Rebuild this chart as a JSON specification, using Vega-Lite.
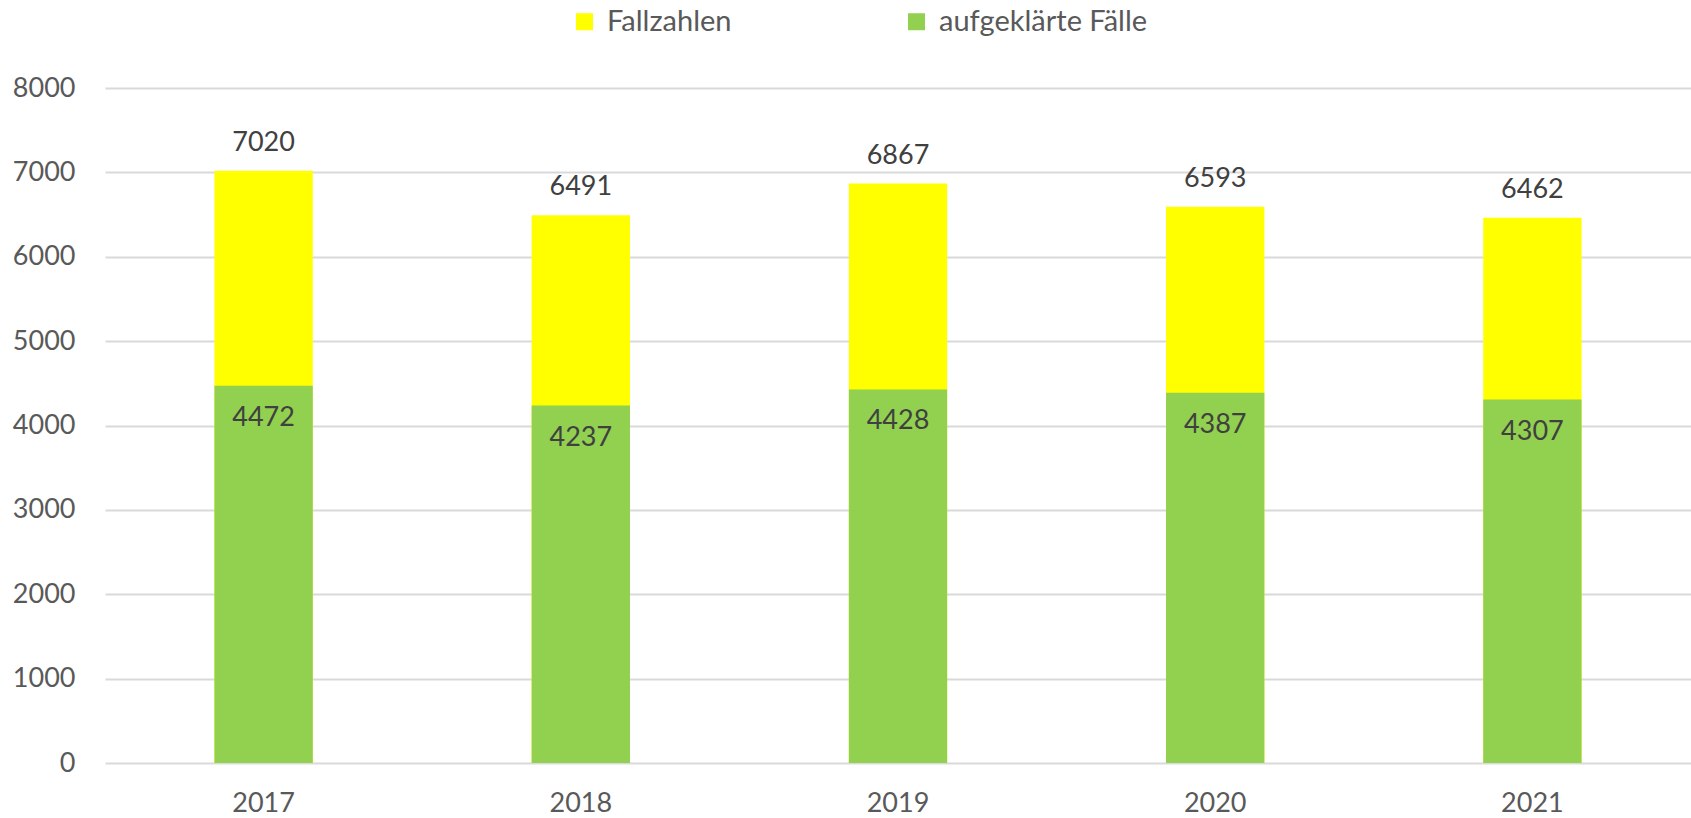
{
  "$schema": "https://vega.github.io/schema/vega-lite/v6.json",
  "width": 1586,
  "height": 675,
  "autosize": {"type": "none"},
  "padding": {"left": 105, "top": 88, "right": 0, "bottom": 55},
  "background": "white",
  "config": {
    "font": "Lato",
    "view": {"stroke": null}
  },
  "data": {
    "values": [
      {"Jahr": "2017", "Fallzahlen": 7020, "aufgeklärte Fälle": 4472},
      {"Jahr": "2018", "Fallzahlen": 6491, "aufgeklärte Fälle": 4237},
      {"Jahr": "2019", "Fallzahlen": 6867, "aufgeklärte Fälle": 4428},
      {"Jahr": "2020", "Fallzahlen": 6593, "aufgeklärte Fälle": 4387},
      {"Jahr": "2021", "Fallzahlen": 6462, "aufgeklärte Fälle": 4307}
    ]
  },
  "transform": [{"fold": ["Fallzahlen", "aufgeklärte Fälle"], "as": ["Serie", "Wert"]}],
  "encoding": {
    "x": {
      "field": "Jahr", "type": "nominal",
      "scale": {"paddingInner": 0, "paddingOuter": 0},
      "axis": {"title": null, "labelAngle": 0, "domain": false, "ticks": false, "labelFontSize": 27, "labelColor": "#595959", "labelPadding": 27}
    },
    "y": {
      "field": "Wert", "type": "quantitative", "stack": null,
      "scale": {"domain": [0, 8000]},
      "axis": {"title": null, "values": [0,1000,2000,3000,4000,5000,6000,7000,8000], "format": "d", "grid": true, "gridColor": "#d9d9d9", "gridWidth": 2, "domain": false, "ticks": false, "labelFontSize": 27, "labelColor": "#595959", "labelPadding": 30}
    }
  },
  "layer": [
    {
      "mark": {"type": "bar", "width": {"band": 0.31}},
      "encoding": {
        "color": {
          "field": "Serie", "type": "nominal",
          "scale": {"domain": ["Fallzahlen", "aufgeklärte Fälle"], "range": ["#FFFF00", "#92D050"]},
          "legend": {"title": null, "orient": "none", "legendX": 465, "legendY": -81, "direction": "horizontal", "symbolType": "square", "symbolSize": 289, "symbolStrokeWidth": 0, "labelFontSize": 29, "labelLimit": 0, "labelColor": "#595959", "labelOffset": 8, "columnPadding": 170}
        }
      }
    },
    {
      "transform": [{"filter": "datum.Serie == 'Fallzahlen'"}],
      "mark": {"type": "text", "baseline": "bottom", "dy": -14, "fontSize": 27, "color": "#404040"},
      "encoding": {"text": {"field": "Wert", "type": "quantitative", "format": "d"}}
    },
    {
      "transform": [{"filter": "datum.Serie != 'Fallzahlen'"}],
      "mark": {"type": "text", "baseline": "top", "dy": 19, "fontSize": 27, "color": "#404040"},
      "encoding": {"text": {"field": "Wert", "type": "quantitative", "format": "d"}}
    }
  ]
}
